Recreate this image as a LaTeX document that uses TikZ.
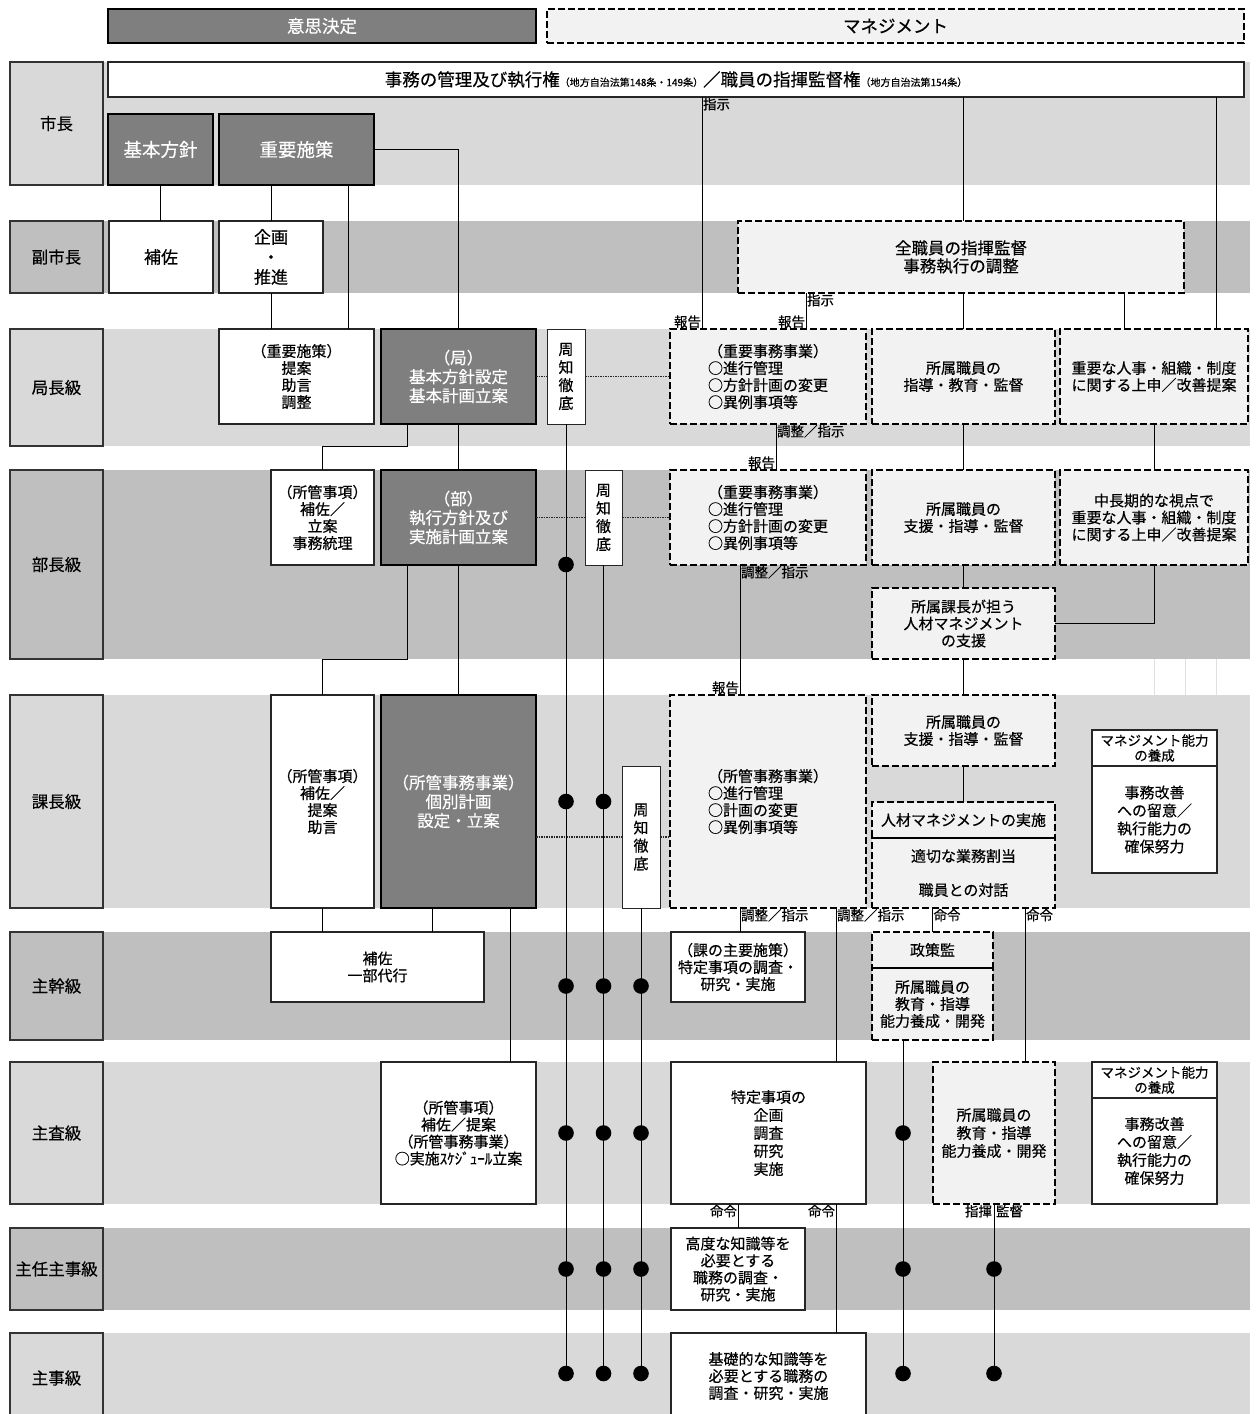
\documentclass[tikz,border=0pt]{standalone}
\usepackage{fontspec}
\setmainfont{Noto Sans CJK JP}[FakeBold=0.4]

\definecolor{bandlight}{HTML}{D9D9D9}
\definecolor{banddark}{HTML}{BFBFBF}
\definecolor{deepgray}{HTML}{7F7F7F}
\definecolor{mgmtfill}{HTML}{F2F2F2}

\tikzset{
    box size/.style 2 args={
        minimum width=#1pt,
        minimum height=#2pt,
    },
    cell/.style={
        anchor=north west,
        align=center,
        inner sep=1pt,
        outer sep=0,
        font=\fontsize{15}{17}\selectfont,
    },
    plain box/.style={
        cell,
        draw=black!85,
        line width=1.2pt,
        fill=white,
    },
    deep box/.style={
        cell,
        draw=black,
        line width=2.4pt,
        fill=deepgray,
        text=white,
        font=\fontsize{16.5}{19}\selectfont,
    },
    mgmt box/.style={
        cell,
        draw=black,
        line width=2.2pt,
        dash pattern=on 7pt off 3pt,
        fill=mgmtfill,
    },
    row band/.style={
        anchor=north west,
        inner sep=0,
        outer sep=0,
        minimum width=1147pt,
    },
    row label/.style={
        cell,
        draw=black!80,
        line width=1.2pt,
        minimum width=93pt,
        font=\fontsize{16.5}{19}\selectfont,
    },
    notice box/.style={
        plain box,
        line width=1pt,
        font=\fontsize{15}{18}\selectfont,
    },
    note/.style={
        inner sep=1pt,
        outer sep=0,
        font=\fontsize{13.5}{14}\selectfont,
    },
    link/.style={line width=0.9pt},
    notice/.style={line width=1.8pt, dash pattern=on 1.5pt off 1pt, black!85},
}

\begin{document}
\begin{tikzpicture}[x=1pt, y=-1pt]
    \useasboundingbox (0,0) rectangle (1259,1414);

    % row bands and row labels
    \foreach \n/\a/\t/\h/\c in {
        shicho/市長/62/123/bandlight,
        fuku/副市長/221/72/banddark,
        kyoku/局長級/329/117/bandlight,
        bu/部長級/470/189/banddark,
        ka/課長級/695/213/bandlight,
        shukan/主幹級/932/108/banddark,
        shusa/主査級/1062/142/bandlight,
        ninji/主任主事級/1228/82/banddark%
    } {
        \node[row band, fill=\c, minimum height=\h pt] (band-\n) at (103,\t) {};
        \node[row label, fill=\c, minimum height=\h pt] (label-\n) at (10,\t) {\a};
    }
    \node[row band, fill=bandlight, minimum height=81pt] (band-shuji) at (103,1333) {};
    \node[row label, fill=bandlight, minimum height=90pt] (label-shuji) at (10,1333) {主事級};
    \foreach \x in {1154,1185,1216} \draw[black!12, line width=0.8pt] (\x,659) -- (\x,695);

    % headers
    \node[deep box, box size={428}{34}, line width=2pt, font=\fontsize{17.5}{20}\selectfont] (head-ishi) at (108,9) {意思決定};
    \node[mgmt box, box size={697}{34}, font=\fontsize{17.5}{20}\selectfont] (head-mgmt) at (547,9) {マネジメント};

    % 市長
    \node[plain box, box size={1136}{35}] (kengen) at (108,62) {{\fontsize{17.5}{20}\selectfont 事務の管理及び執行権}{\fontsize{10}{12}\selectfont （地方自治法第148条・149条）}{\fontsize{17.5}{20}\selectfont ／職員の指揮監督権}{\fontsize{10}{12}\selectfont （地方自治法第154条）}};
    \node[deep box, box size={105}{71}, font=\fontsize{18.5}{21}\selectfont] (kihon) at (108,114) {基本方針};
    \node[deep box, box size={155}{71}, font=\fontsize{18.5}{21}\selectfont] (jyuyo) at (219,114) {重要施策};

    % 副市長
    \node[plain box, box size={104}{72}, font=\fontsize{17}{20}\selectfont] (hosa) at (109,221) {補佐};
    \node[plain box, box size={104}{72}, font=\fontsize{17}{20}\selectfont] (kikaku) at (219,221) {企画\\・\\推進};
    \node[mgmt box, box size={446}{72}, font=\fontsize{16.5}{18}\selectfont] (zenshoku) at (738,221) {全職員の指揮監督\\事務執行の調整};

    % 局長級
    \node[plain box, box size={155}{95}] (teian) at (219,329) {（重要施策）\\提案\\助言\\調整};
    \node[deep box, box size={155}{95}] (kyoku) at (381,329) {（局）\\基本方針設定\\基本計画立案};
    \node[notice box, box size={38}{95}] (shuchi1) at (547,329) {周\\知\\徹\\底};
    \node[mgmt box, box size={196}{95}, align=left] (jimu1) at (670,329) {（重要事務事業）\\○進行管理\\○方針計画の変更\\○異例事項等};
    \node[mgmt box, box size={183}{95}] (shido1) at (872,329) {所属職員の\\指導・教育・監督};
    \node[mgmt box, box size={188}{95}] (jinji1) at (1060,329) {重要な人事・組織・制度\\に関する上申／改善提案};

    % 部長級
    \node[plain box, box size={103}{95}] (shokan1) at (271,470) {（所管事項）\\補佐／\\立案\\事務統理};
    \node[deep box, box size={155}{95}] (bu) at (381,470) {（部）\\執行方針及び\\実施計画立案};
    \node[notice box, box size={37}{95}] (shuchi2) at (585,470) {周\\知\\徹\\底};
    \node[mgmt box, box size={196}{95}, align=left] (jimu2) at (670,470) {（重要事務事業）\\○進行管理\\○方針計画の変更\\○異例事項等};
    \node[mgmt box, box size={183}{95}] (shido2) at (872,470) {所属職員の\\支援・指導・監督};
    \node[mgmt box, box size={188}{95}] (jinji2) at (1060,470) {中長期的な視点で\\重要な人事・組織・制度\\に関する上申／改善提案};
    \node[mgmt box, box size={183}{71}] (shien) at (872,588) {所属課長が担う\\人材マネジメント\\の支援};

    % 課長級
    \node[plain box, box size={103}{213}] (shokan2) at (271,695) {（所管事項）\\補佐／\\提案\\助言};
    \node[deep box, box size={155}{213}] (kobetsu) at (381,695) {（所管事務事業）\\個別計画\\設定・立案};
    \node[notice box, box size={38}{142}] (shuchi3) at (622,766) {周\\知\\徹\\底};
    \node[mgmt box, box size={196}{213}, align=left] (jimu3) at (670,695) {（所管事務事業）\\○進行管理\\○計画の変更\\○異例事項等};
    \node[mgmt box, box size={183}{71}] (shido3) at (872,695) {所属職員の\\支援・指導・監督};
    \node[mgmt box, box size={183}{36}] (jinzai-head) at (872,802) {人材マネジメントの実施};
    \node[mgmt box, box size={183}{70}] (jinzai) at (872,838) {適切な業務割当\\[17pt]職員との対話};
    \node[plain box, box size={125}{36}, font=\fontsize{13.5}{15}\selectfont] (ikusei1) at (1092,730) {マネジメント能力\\の養成};
    \node[plain box, box size={125}{107}, font=\fontsize{15}{18}\selectfont] (kaizen1) at (1092,766) {事務改善\\への留意／\\執行能力の\\確保努力};

    % 主幹級
    \node[plain box, box size={213}{70}] (hosa2) at (271,932) {補佐\\一部代行};
    \node[plain box, box size={134}{70}] (kachu) at (671,932) {（課の主要施策）\\特定事項の調査・\\研究・実施};
    \node[mgmt box, box size={121}{36}] (seisaku-head) at (872,932) {政策監};
    \node[mgmt box, box size={121}{72}] (seisaku) at (872,968) {所属職員の\\教育・指導\\能力養成・開発};

    % 主査級
    \node[plain box, box size={155}{142}] (shokan3) at (381,1062) {（所管事項）\\補佐／提案\\（所管事務事業）\\○実施ｽｹｼﾞｭｰﾙ立案};
    \node[plain box, box size={195}{142}, font=\fontsize{15}{18}\selectfont] (tokutei) at (671,1062) {特定事項の\\企画\\調査\\研究\\実施};
    \node[mgmt box, box size={122}{142}, font=\fontsize{15}{18}\selectfont] (kyoiku) at (933,1062) {所属職員の\\教育・指導\\能力養成・開発};
    \node[plain box, box size={125}{36}, font=\fontsize{13.5}{15}\selectfont] (ikusei2) at (1092,1062) {マネジメント能力\\の養成};
    \node[plain box, box size={125}{106}, font=\fontsize{15}{18}\selectfont] (kaizen2) at (1092,1098) {事務改善\\への留意／\\執行能力の\\確保努力};

    % 主任主事級 and 主事級
    \node[plain box, box size={134}{82}] (kodo) at (671,1228) {高度な知識等を\\必要とする\\職務の調査・\\研究・実施};
    \node[plain box, box size={195}{86}] (kiso) at (671,1333) {基礎的な知識等を\\必要とする職務の\\調査・研究・実施};

    % solid separators inside dashed boxes
    \draw[line width=1.2pt] (jinzai.north west) -- (jinzai.north east);
    \draw[line width=1.2pt] (seisaku.north west) -- (seisaku.north east);

    % lanes for the connectors
    \coordinate (lane-jyuyo) at ([xshift=-26pt]jyuyo.south east);
    \coordinate (lane-shiji) at ([xshift=32pt]jimu1.north west);
    \coordinate (lane-zen) at ([xshift=-60pt]jimu1.north east);
    \coordinate (lane-jinji) at ([xshift=-32pt]jinji1.north east);
    \coordinate (lane-zen2) at ([xshift=64pt]jinji1.north west);
    \coordinate (lane-kyoku) at ([xshift=26pt]kyoku.south west);
    \coordinate (lane-bu) at ([xshift=26pt]bu.south west);
    \coordinate (lane-jimu1) at ([xshift=106pt]jimu1.south west);
    \coordinate (lane-jimu2) at ([xshift=70pt]jimu2.south west);
    \coordinate (lane-jimu3) at ([xshift=70pt]jimu3.south west);
    \coordinate (lane-tokutei) at ([xshift=166pt]jimu3.south west);
    \coordinate (lane-kob1) at ([xshift=51pt]kobetsu.south west);
    \coordinate (lane-kob2) at ([xshift=-26pt]kobetsu.south east);
    \coordinate (lane-mei) at ([xshift=-30pt]jinzai.south east);
    \coordinate (lane-sei) at ([xshift=31pt]seisaku.south west);

    % 市長 down
    \draw[link] (kihon.south) -- (kihon.south |- hosa.north);
    \draw[link] (jyuyo.south -| kikaku.north) -- (kikaku.north);
    \draw[link] (lane-jyuyo) -- (lane-jyuyo |- teian.north);
    \draw[link] (jyuyo.east) -| (kyoku.north);
    \draw[link] (kikaku.south) -- (kikaku.south |- teian.north);
    \draw[link] (lane-shiji |- kengen.south) node[note, anchor=north west] (shiji-a) {指示}
        -- (lane-shiji) node[note, anchor=south east] (hokoku-a) {報告};
    \draw[link] (kengen.south -| shido1.north) -- (zenshoku.north -| shido1.north);
    \draw[link] (zenshoku.south -| shido1.north) -- (shido1.north);
    \draw[link] (lane-jinji |- kengen.south) -- (lane-jinji);
    \draw[link] (lane-zen |- zenshoku.south) node[note, anchor=north west] (shiji-b) {指示}
        -- (lane-zen) node[note, anchor=south east] (hokoku-b) {報告};
    \draw[link] (lane-zen2 |- zenshoku.south) -- (lane-zen2);

    % 局長級 down
    \draw[link] (lane-kyoku) |- (band-kyoku.south -| shokan1.north) -- (shokan1.north);
    \draw[link] (kyoku.south) -- (bu.north);
    \draw[link] (lane-jimu1) node[note, anchor=north west] (chosei-a) {調整／指示}
        -- (lane-jimu1 |- jimu2.north) node[note, anchor=south east] (hokoku-c) {報告};
    \draw[link] (shido1.south) -- (shido2.north);
    \draw[link] (jinji1.south) -- (jinji2.north);

    % 部長級 down
    \draw[link] (lane-bu) |- (band-bu.south -| shokan2.north) -- (shokan2.north);
    \draw[link] (bu.south) -- (kobetsu.north);
    \draw[link] (lane-jimu2) node[note, anchor=north west] (chosei-b) {調整／指示}
        -- (lane-jimu2 |- jimu3.north) node[note, anchor=south east] (hokoku-d) {報告};
    \draw[link] (shido2.south) -- (shien.north);
    \draw[link] (jinji2.south) |- (shien.east);
    \draw[link] (shien.south) -- (shido3.north);

    % 課長級 down
    \draw[link] (shido3.south) -- (jinzai-head.north);
    \draw[link] (shokan2.south) -- (shokan2.south |- hosa2.north);
    \draw[link] (lane-kob1) -- (lane-kob1 |- hosa2.north);
    \draw[link] (lane-kob2) -- (lane-kob2 |- shokan3.north);
    \draw[link] (lane-jimu3) node[note, anchor=north west] (chosei-c) {調整／指示}
        -- (lane-jimu3 |- kachu.north);
    \draw[link] (lane-tokutei) node[note, anchor=north west] (chosei-d) {調整／指示}
        -- (lane-tokutei |- tokutei.north);
    \draw[link] (jinzai.south -| seisaku-head.north) node[note, anchor=north west] (meirei-a) {命令}
        -- (seisaku-head.north);
    \draw[link] (lane-mei) node[note, anchor=north west] (meirei-b) {命令}
        -- (lane-mei |- kyoiku.north);

    % 主査級 down
    \draw[link] (tokutei.south -| kodo.north) node[note, anchor=north east] (meirei-c) {命令}
        -- (kodo.north);
    \draw[link] (tokutei.south -| lane-tokutei) node[note, anchor=north east] (meirei-d) {命令}
        -- (lane-tokutei |- kiso.north);
    \node[note, anchor=north east, xshift=-1pt] (shiki) at (kyoiku.south) {指揮};
    \node[note, anchor=north west, xshift=1pt] (kantoku) at (kyoiku.south) {監督};

    % 周知徹底 links
    \draw[notice] (kyoku.east) -- (shuchi1.west |- kyoku.east);
    \draw[notice] (shuchi1.east |- kyoku.east) -- (jimu1.west |- kyoku.east);
    \draw[notice] (bu.east) -- (shuchi2.west |- bu.east);
    \draw[notice] (shuchi2.east |- bu.east) -- (jimu2.west |- bu.east);
    \draw[notice] (kobetsu.east |- shuchi3.west) -- (shuchi3.west);
    \draw[notice] (shuchi3.east) -- (jimu3.west |- shuchi3.east);

    % vertical lines with dots
    \foreach \s/\rows in {
        shuchi1.south/{bu,ka,shukan,shusa,ninji,shuji},
        shuchi2.south/{ka,shukan,shusa,ninji,shuji},
        shuchi3.south/{shukan,shusa,ninji,shuji},
        lane-sei/{shusa,ninji,shuji},
        kyoiku.south/{ninji,shuji}%
    } {
        \draw[link] (\s) -- (\s |- band-shuji.center);
        \foreach \r in \rows {
            \fill (\s |- band-\r.center) circle (7.8pt);
        }
    }

\end{tikzpicture}
\end{document}
